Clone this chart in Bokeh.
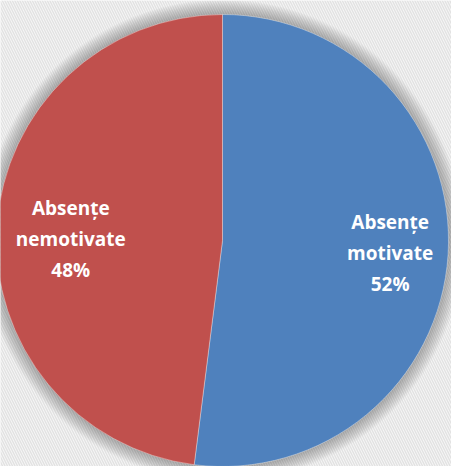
import numpy as np
from bokeh.plotting import figure
from bokeh.models import Range1d, ColumnDataSource
from bokeh.core.properties import value
from bokeh.embed import file_html
from bokeh.resources import INLINE

# ---- data ----
categories = ["Absențe motivate", "Absențe nemotivate"]
label_lines = ["Absențe\nmotivate", "Absențe\nnemotivate"]
values = [52, 48]
colors = ["#4F81BD", "#C0504D"]

# ---- layout ----
W, H = 451, 466
cx, cy, R = 222, H - 240, 226
label_r = [168, 152]
label_dy = [-2, -8]

vals = np.array(values, dtype=float)
frac = vals / vals.sum()
ang = frac * 2 * np.pi
ends_cum = np.cumsum(ang)
starts = np.pi / 2 - np.concatenate([[0], ends_cum[:-1]])
ends = np.pi / 2 - ends_cum
mids = (starts + ends) / 2
pct = [f"{round(f * 100)}%" for f in frac]
texts = [f"{l}\n{p}" for l, p in zip(label_lines, pct)]
lx = [cx + r * np.cos(m) for r, m in zip(label_r, mids)]
ly = [cy + r * np.sin(m) + d for r, m, d in zip(label_r, mids, label_dy)]

p = figure(width=W, height=H, output_backend="svg", toolbar_location=None,
           x_range=Range1d(0, W), y_range=Range1d(0, H),
           x_axis_type=None, y_axis_type=None, min_border=0)
p.outline_line_color = None
p.grid.visible = False
p.background_fill_color = "#f5f5f5"
p.border_fill_color = "#f5f5f5"

# textured background
p.quad(left=[0], right=[W], bottom=[0], top=[H], fill_color="#f6f6f6",
       line_color=None, hatch_pattern="\\", hatch_color="#e2e2e2",
       hatch_scale=5, hatch_weight=1.4)

# soft shadow around the pie
for k in range(1, 16):
    p.circle(x=[cx], y=[cy], radius=R + k, fill_color="#000000",
             fill_alpha=0.02, line_color=None)

src = ColumnDataSource(dict(start=starts, end=ends, color=colors, cat=categories))
p.wedge(x=cx, y=cy, radius=R, start_angle="start", end_angle="end",
        direction="clock", fill_color="color", line_color="#ffffff",
        line_alpha=0.35, line_width=1, source=src)

tsrc = ColumnDataSource(dict(x=lx, y=ly, t=texts))
p.text(x="x", y="y", text="t", source=tsrc, text_color="#ffffff",
       text_font=value("Open Sans"), text_font_style="bold",
       text_font_size="19px", text_align="center", text_baseline="middle",
       text_line_height=1.18)

open("out.html", "w").write(file_html(p, INLINE))
